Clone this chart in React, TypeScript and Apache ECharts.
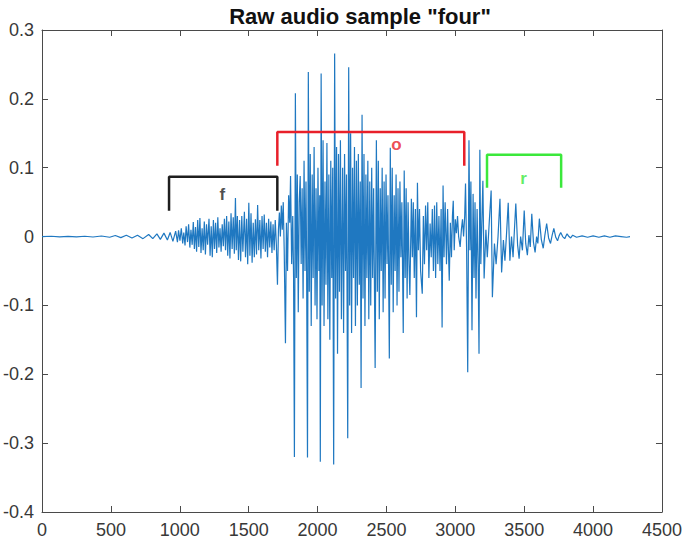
import React, { useEffect, useRef } from "react";
import * as echarts from "echarts";

const chartTitle = 'Raw audio sample "four"';
const xMin = 0, xMax = 4500, xStep = 500;
const yMin = -0.4, yMax = 0.3, yStep = 0.1;

// waveform segments: [sample, amplitude]
const silentLead: [number, number][] = [
  [0, 0], [67, 0.0005], [128, -0.0005], [189, 0.0004], [250, -0.0005], [310, 0.0005],
  [370, -0.0006], [431, 0.0008], [491, -0.001], [532, 0.0015], [572, -0.0015], [612, 0.002],
  [653, -0.002], [693, 0.002], [733, -0.003], [774, 0.003], [804, -0.003], [834, 0.004],
  [859, -0.004], [885, 0.005], [910, -0.005], [930, 0.006], [950, -0.007], [970, 0.008],
  [983, -0.008],
];

const fricativeF: [number, number][] = [
  [991, 0.009], [1001, -0.006], [1011, 0.012], [1021, -0.01], [1029, 0.006], [1038, -0.013],
  [1046, 0.015], [1056, -0.008], [1064, 0.018], [1073, -0.016], [1081, 0.01], [1090, -0.012],
  [1098, 0.021], [1106, -0.018], [1114, 0.014], [1122, -0.022], [1130, 0.024], [1138, -0.015],
  [1146, 0.027], [1154, -0.024], [1162, 0.012], [1170, -0.02], [1178, 0.022], [1186, -0.026],
  [1194, 0.018], [1202, -0.012], [1212, 0.026], [1220, -0.028], [1228, 0.015], [1236, -0.03],
  [1244, 0.024], [1252, -0.018], [1260, 0.02], [1268, -0.024], [1276, 0.028], [1284, -0.016],
  [1292, 0.012], [1300, -0.022], [1308, 0.018], [1316, -0.014], [1324, 0.026], [1332, -0.02],
  [1340, 0.03], [1348, -0.028], [1356, 0.022], [1364, -0.032], [1372, 0.034], [1380, -0.018],
  [1388, 0.028], [1396, -0.025], [1404, 0.056], [1410, -0.02], [1418, 0.03], [1426, -0.034],
  [1434, 0.024], [1442, -0.036], [1450, 0.03], [1458, -0.022], [1469, 0.036], [1477, -0.03],
  [1485, 0.026], [1493, -0.04], [1501, 0.049], [1509, -0.028], [1517, 0.034], [1525, -0.038],
  [1533, 0.02], [1541, -0.03], [1549, 0.025], [1557, -0.026], [1565, 0.046], [1573, -0.02],
  [1581, 0.024], [1589, -0.032], [1597, 0.03], [1605, -0.018], [1613, 0.032], [1621, -0.022],
  [1629, 0.02], [1637, -0.03], [1645, 0.026], [1653, -0.016], [1661, 0.022], [1669, -0.024],
  [1677, 0.018], [1685, -0.02], [1693, 0.024], [1701, -0.012], [1709, -0.07],
];

const vowelO: [number, number][] = [
  [1716, 0.01], [1723, 0.035], [1730, 0.0], [1737, 0.045], [1744, 0.01], [1751, 0.05], [1758, -0.02],
  [1767, -0.155], [1774, 0.02], [1782, -0.05], [1790, 0.06], [1798, 0.02], [1804, 0.088],
  [1812, -0.04], [1820, 0.03], [1826, -0.06], [1832, -0.32], [1839, 0.208], [1846, -0.06],
  [1853, 0.09], [1860, -0.11], [1867, 0.05], [1874, 0.088], [1881, -0.04], [1888, 0.07],
  [1895, -0.09], [1902, 0.11], [1909, -0.05], [1916, 0.08], [1920, -0.02], [1927, -0.321],
  [1933, 0.239], [1940, -0.08], [1947, 0.12], [1954, -0.13], [1961, 0.09], [1968, -0.06],
  [1975, 0.13], [1982, -0.1], [1989, 0.07], [1996, -0.12], [2003, 0.1], [2010, -0.05],
  [2016, 0.06], [2020, -0.327], [2026, 0.237], [2033, -0.1], [2040, 0.14], [2047, -0.13],
  [2054, 0.08], [2061, -0.07], [2068, 0.136], [2075, -0.12], [2082, 0.09], [2089, -0.15],
  [2096, 0.11], [2103, -0.06], [2110, 0.1], [2117, -0.331], [2124, 0.266], [2131, -0.09],
  [2138, 0.13], [2145, -0.17], [2152, 0.12], [2159, -0.08], [2166, 0.14], [2173, -0.12],
  [2182, 0.1], [2189, -0.14], [2196, 0.12], [2203, -0.05], [2210, 0.09], [2219, -0.293],
  [2226, 0.246], [2233, -0.1], [2240, 0.15], [2247, -0.14], [2254, 0.1], [2261, -0.06],
  [2268, 0.13], [2275, -0.13], [2282, 0.11], [2289, -0.1], [2296, 0.12], [2303, -0.07],
  [2310, 0.08], [2316, -0.22], [2323, 0.177], [2330, -0.09], [2337, 0.12], [2344, -0.13],
  [2351, 0.09], [2358, -0.06], [2365, 0.11], [2372, -0.12], [2379, 0.08], [2386, -0.1],
  [2393, 0.1], [2400, -0.06], [2407, 0.07], [2418, -0.191], [2427, 0.14], [2434, -0.08],
  [2441, 0.11], [2448, -0.12], [2455, 0.07], [2462, -0.05], [2469, 0.1], [2476, -0.11],
  [2483, 0.08], [2490, -0.09], [2497, 0.09], [2504, -0.04], [2511, 0.06], [2521, -0.177],
  [2528, 0.129], [2535, -0.07], [2542, 0.1], [2549, -0.11], [2556, 0.06], [2563, -0.05],
  [2570, 0.09], [2577, -0.1], [2584, 0.07], [2591, -0.08], [2598, 0.08], [2605, -0.03],
  [2612, 0.05], [2622, -0.14], [2629, 0.096], [2636, -0.06], [2643, 0.07], [2650, -0.09],
  [2657, 0.05], [2664, -0.04], [2670, -0.085], [2681, 0.055], [2688, -0.03], [2695, 0.05],
  [2702, -0.06], [2710, 0.04], [2718, -0.117], [2725, 0.078], [2732, -0.02], [2740, 0.04],
  [2748, -0.05], [2760, -0.083], [2768, 0.03], [2776, -0.04], [2784, 0.045], [2792, -0.02],
  [2800, 0.05], [2808, -0.06], [2817, 0.019], [2825, -0.03], [2833, 0.04], [2841, -0.05],
  [2849, 0.045], [2857, -0.06], [2865, 0.05], [2873, -0.04], [2881, 0.03], [2889, -0.05],
  [2897, 0.04], [2904, -0.132], [2911, 0.074], [2918, -0.03], [2926, 0.05], [2936, -0.04],
  [2944, 0.04], [2950, -0.02], [2956, -0.064], [2964, 0.02], [2972, -0.03], [2979, 0.03],
  [2985, 0.052], [2992, -0.02], [3000, 0.025], [3008, 0.005], [3016, 0.03], [3024, 0.0],
  [3035, -0.015], [3044, 0.01], [3052, 0.025], [3060, 0.0], [3068, 0.03], [3074, 0.077],
  [3082, -0.02], [3090, -0.197], [3099, 0.14], [3106, -0.02], [3113, 0.08], [3121, -0.136],
  [3129, 0.062], [3136, -0.06], [3143, 0.05], [3150, -0.09], [3158, 0.04], [3166, -0.05],
  [3172, -0.17], [3178, 0.126], [3185, -0.04],
];

const tailR: [number, number][] = [
  [3200, 0.081], [3209, -0.061], [3222, 0.01], [3232, -0.03], [3246, 0.02], [3260, 0.067],
  [3269, -0.088], [3284, -0.01], [3296, -0.04], [3310, 0.0], [3324, 0.055], [3336, -0.052],
  [3349, -0.005], [3360, -0.035], [3372, 0.005], [3384, 0.049], [3396, -0.035], [3408, 0.0],
  [3419, -0.03], [3429, 0.01], [3439, 0.048], [3452, -0.012], [3463, -0.032], [3474, 0.0],
  [3487, -0.02], [3500, 0.038], [3511, -0.01], [3523, -0.027], [3534, 0.002], [3544, -0.015],
  [3555, 0.033], [3567, -0.008], [3579, -0.023], [3590, 0.0], [3599, -0.01], [3610, 0.026],
  [3624, -0.004], [3638, -0.017], [3650, 0.002], [3663, 0.019], [3677, -0.002], [3691, -0.01],
  [3703, 0.002], [3715, 0.012], [3729, -0.001], [3742, -0.006], [3753, 0.001], [3765, 0.006],
  [3779, 0.0], [3794, -0.003], [3811, 0.004], [3825, 0.0], [3837, -0.002], [3852, 0.002],
];

const silentTail: [number, number][] = [
  [3880, -0.001], [3920, 0.001], [3960, -0.001], [4000, 0.001], [4042, -0.001], [4082, 0.001],
  [4122, -0.001], [4162, 0.001], [4203, 0.0], [4243, -0.001], [4268, 0.0],
];

// phoneme brackets: [xStart, xEnd], bottom and top levels
const bracketNames = ["f", "o", "r"];
const bracketX: [number, number][] = [[922, 1708], [1708, 3065], [3230, 3768]];
const bracketYBottom = [0.0376, 0.103, 0.071];
const bracketYTop = [0.0868, 0.152, 0.119];
const bracketColors = ["#1e1e1e", "#e8202a", "#3be83b"];
const bracketLabelPos: [number, number][] = [[1309, 0.061], [2572, 0.133], [3495, 0.084]];

export default function App() {
  const ref = useRef<HTMLDivElement>(null);
  useEffect(() => {
    document.body.style.margin = "0";
    if (!ref.current) return;
    const chart = echarts.init(ref.current, undefined, { renderer: "svg" });
    const waveform = [...silentLead, ...fricativeF, ...vowelO, ...tailR, ...silentTail];
    const axisColor = "#4a4a4a";
    const font = "Arial, 'Liberation Sans', Helvetica, sans-serif";
    const lineCfg = { show: true, onZero: false, lineStyle: { color: axisColor, width: 1 } };
    const tickCfg = { show: true, inside: true, length: 6, lineStyle: { color: axisColor } };
    const bracketSeries = bracketNames.map((n, i) => ({
      type: "line",
      name: "bracket-" + n,
      xAxisIndex: 0,
      yAxisIndex: 0,
      data: [
        [bracketX[i][0], bracketYBottom[i]],
        [bracketX[i][0], bracketYTop[i]],
        [bracketX[i][1], bracketYTop[i]],
        [bracketX[i][1], bracketYBottom[i]],
      ],
      showSymbol: false,
      symbol: "none",
      lineStyle: { color: bracketColors[i], width: 2.5 },
      z: 5,
    }));
    const labelSeries = bracketNames.map((n, i) => ({
      type: "scatter",
      name: "label-" + n,
      xAxisIndex: 0,
      yAxisIndex: 0,
      symbolSize: 1,
      itemStyle: { color: "rgba(0,0,0,0)" },
      data: [bracketLabelPos[i]],
      label: {
        show: true,
        position: "inside",
        formatter: n,
        color: bracketColors[i],
        fontWeight: "bold",
        fontSize: 17,
        fontFamily: font,
      },
      z: 6,
    }));
    chart.setOption({
      animation: false,
      backgroundColor: "#ffffff",
      title: {
        text: chartTitle,
        left: 355,
        textAlign: "center",
        top: 0,
        textStyle: { fontSize: 22, fontWeight: "bold", color: "#111", fontFamily: font },
      },
      grid: { left: 41, right: 23, top: 30, bottom: 32, containLabel: false },
      xAxis: [
        {
          type: "value", min: xMin, max: xMax, interval: xStep, position: "bottom",
          axisLine: lineCfg, axisTick: tickCfg,
          axisLabel: {
            color: "#383838", fontSize: 18, margin: 9, fontFamily: font,
            formatter: (v: number) => String(v),
          },
          splitLine: { show: false },
        },
        {
          type: "value", min: xMin, max: xMax, interval: xStep, position: "top",
          axisLine: lineCfg, axisTick: tickCfg,
          axisLabel: { show: false },
          splitLine: { show: false },
        },
      ],
      yAxis: [
        {
          type: "value", min: yMin, max: yMax, interval: yStep, position: "left",
          axisLine: lineCfg, axisTick: tickCfg,
          axisLabel: {
            color: "#383838", fontSize: 18, margin: 8, fontFamily: font,
            formatter: (v: number) => String(Math.round(v * 10) / 10),
          },
          splitLine: { show: false },
        },
        {
          type: "value", min: yMin, max: yMax, interval: yStep, position: "right",
          axisLine: lineCfg, axisTick: tickCfg,
          axisLabel: { show: false },
          splitLine: { show: false },
        },
      ],
      series: [
        {
          type: "line",
          name: "waveform",
          xAxisIndex: 0,
          yAxisIndex: 0,
          data: waveform,
          showSymbol: false,
          symbol: "none",
          lineStyle: { color: "#1f78c1", width: 1.2 },
          z: 3,
        },
        ...bracketSeries,
        ...labelSeries,
      ],
    });
    return () => chart.dispose();
  }, []);
  return <div ref={ref} style={{ width: 685, height: 544 }} />;
}
